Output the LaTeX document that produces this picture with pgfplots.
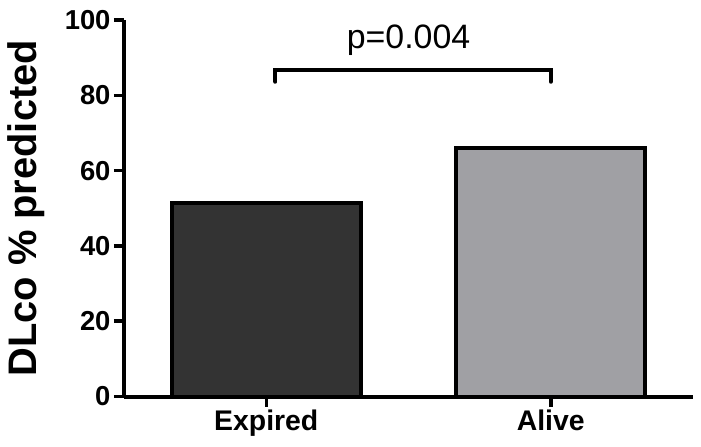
\documentclass[border=0pt]{standalone}
\usepackage{fontspec}
\setmainfont{Liberation Sans}
\usepackage{pgfplots}
\pgfplotsset{compat=1.18}
\definecolor{expired}{HTML}{333333}
\definecolor{alive}{HTML}{A0A0A4}

\begin{document}
\begin{tikzpicture}
\begin{axis}[
  scale only axis,
  width=569bp, height=376.5bp,
  xmin=-0.5, xmax=1.5, ymin=0, ymax=100,
  axis x line=bottom, axis y line=left,
  axis line style={-, line width=4bp},
  xtick={0,1}, xticklabels={Expired,Alive},
  ytick={0,20,...,100},
  tick align=outside,
  major tick length=10bp,
  every tick/.style={black, line width=3.5bp},
  /pgf/number format/assume math mode=true,
  y tick label style={font=\fontsize{27.5}{32}\selectfont\bfseries},
  x tick label style={font=\fontsize{28.5}{32}\selectfont\bfseries},
  ylabel={DLco \% predicted},
  ylabel style={font=\fontsize{40}{44}\selectfont\bfseries,
    at={(axis description cs:-0.172,0.5)}, anchor=center},
  clip=false,
]
\addplot[ybar, bar shift=0pt, bar width=0.664, fill=expired, draw=black, line width=4bp]
  coordinates {(0,51.3)};
\addplot[ybar, bar shift=0pt, bar width=0.664, fill=alive, draw=black, line width=4bp]
  coordinates {(1,66.1)};
% significance bracket
\addplot[black, line width=4bp, line cap=round]
  coordinates {(0.032,83.6) (0.032,86.7) (1.0,86.7) (1.0,83.6)};
\node[anchor=base, font=\fontsize{34}{40}\selectfont] at (axis cs:0.5,92.5) {p=0.004};
\end{axis}
\pgfresetboundingbox
\path (-124bp,-50.5bp) rectangle ++(701bp,447bp);
\end{tikzpicture}
\end{document}
